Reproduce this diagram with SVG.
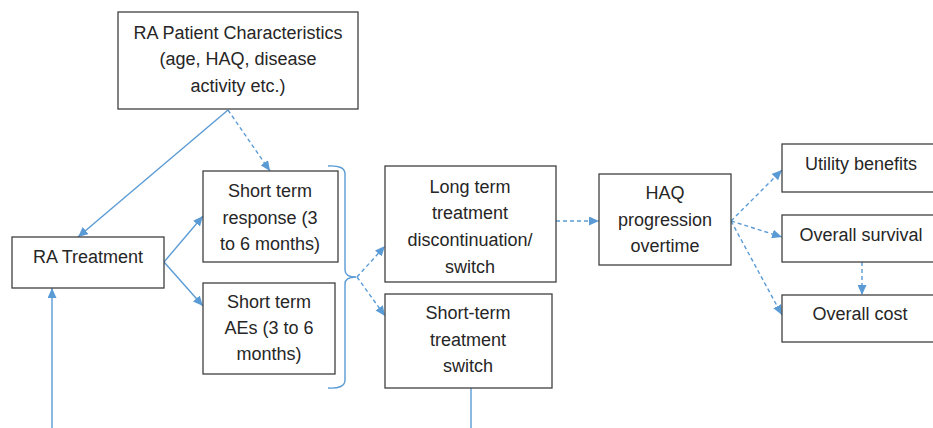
<svg xmlns="http://www.w3.org/2000/svg" width="933" height="428" viewBox="0 0 933 428">
  <defs>
    <marker id="arrow" markerUnits="userSpaceOnUse" markerWidth="11" markerHeight="9" refX="10" refY="4.5" orient="auto">
      <path d="M0,0 L10,4.5 L0,9 z" fill="#5B9BD5"/>
    </marker>
    <style>
      .box { fill: #ffffff; stroke: #404040; stroke-width: 1.3; }
      .lbl { font-family: "Liberation Sans", Arial, sans-serif; font-size: 18px; fill: #262626; text-anchor: middle; }
      .solid { fill: none; stroke: #5B9BD5; stroke-width: 1.4; }
      .dash { fill: none; stroke: #5B9BD5; stroke-width: 1.4; stroke-dasharray: 4 3; }
    </style>
  </defs>
  <rect width="933" height="428" fill="#ffffff"/>

  <!-- connectors -->
  <g id="connectors">
    <line class="solid" x1="228" y1="110" x2="78" y2="237" marker-end="url(#arrow)"/>
    <line class="dash" x1="228" y1="110" x2="270" y2="171" marker-end="url(#arrow)"/>
    <line class="solid" x1="164" y1="262" x2="203" y2="216" marker-end="url(#arrow)"/>
    <line class="solid" x1="164" y1="262" x2="203" y2="306" marker-end="url(#arrow)"/>
    <line class="solid" x1="52" y1="428" x2="52" y2="288" marker-end="url(#arrow)"/>
    <path class="solid" d="M328,166 Q345,165 345,174 L345,270 Q345,277 356,277 Q345,277 345,284 L345,380 Q345,389 328,388"/>
    <line class="dash" x1="357" y1="277" x2="385" y2="246" marker-end="url(#arrow)"/>
    <line class="dash" x1="357" y1="277" x2="385" y2="316" marker-end="url(#arrow)"/>
    <line class="solid" x1="471" y1="388" x2="471" y2="428"/>
    <line class="dash" x1="556" y1="221" x2="599" y2="221" marker-end="url(#arrow)"/>
    <line class="dash" x1="731" y1="221" x2="782" y2="170" marker-end="url(#arrow)"/>
    <line class="dash" x1="731" y1="221" x2="782" y2="237" marker-end="url(#arrow)"/>
    <line class="dash" x1="731" y1="221" x2="782" y2="315" marker-end="url(#arrow)"/>
    <line class="dash" x1="862" y1="262" x2="862" y2="295" marker-end="url(#arrow)"/>
  </g>

  <!-- nodes -->
  <g id="patient-characteristics">
    <rect class="box" x="118" y="12" width="240" height="97"/>
    <text class="lbl" x="238" y="39">RA Patient Characteristics</text>
    <text class="lbl" x="238" y="65">(age, HAQ, disease</text>
    <text class="lbl" x="238" y="92">activity etc.)</text>
  </g>

  <g id="ra-treatment">
    <rect class="box" x="12" y="237" width="152" height="51"/>
    <text class="lbl" x="88" y="263">RA Treatment</text>
  </g>

  <g id="short-term-response">
    <rect class="box" x="203" y="171" width="135" height="91"/>
    <text class="lbl" x="270" y="197">Short term</text>
    <text class="lbl" x="270" y="224">response (3</text>
    <text class="lbl" x="270" y="250">to 6 months)</text>
  </g>

  <g id="short-term-aes">
    <rect class="box" x="203" y="283" width="132" height="91"/>
    <text class="lbl" x="269" y="308">Short term</text>
    <text class="lbl" x="269" y="334">AEs (3 to 6</text>
    <text class="lbl" x="269" y="360">months)</text>
  </g>

  <g id="long-term-discontinuation">
    <rect class="box" x="385" y="166" width="171" height="116"/>
    <text class="lbl" x="470" y="193">Long term</text>
    <text class="lbl" x="470" y="219">treatment</text>
    <text class="lbl" x="470" y="246">discontinuation/</text>
    <text class="lbl" x="470" y="273">switch</text>
  </g>

  <g id="short-term-switch">
    <rect class="box" x="385" y="294" width="167" height="94"/>
    <text class="lbl" x="468" y="319">Short-term</text>
    <text class="lbl" x="468" y="346">treatment</text>
    <text class="lbl" x="468" y="372">switch</text>
  </g>

  <g id="haq-progression">
    <rect class="box" x="599" y="174" width="132" height="91"/>
    <text class="lbl" x="665" y="199">HAQ</text>
    <text class="lbl" x="665" y="226">progression</text>
    <text class="lbl" x="665" y="252">overtime</text>
  </g>

  <g id="utility-benefits">
    <rect class="box" x="782" y="144" width="160" height="48"/>
    <text class="lbl" x="861" y="170">Utility benefits</text>
  </g>

  <g id="overall-survival">
    <rect class="box" x="782" y="215" width="160" height="47"/>
    <text class="lbl" x="861" y="241">Overall survival</text>
  </g>

  <g id="overall-cost">
    <rect class="box" x="782" y="295" width="160" height="47"/>
    <text class="lbl" x="860" y="320">Overall cost</text>
  </g>
</svg>
